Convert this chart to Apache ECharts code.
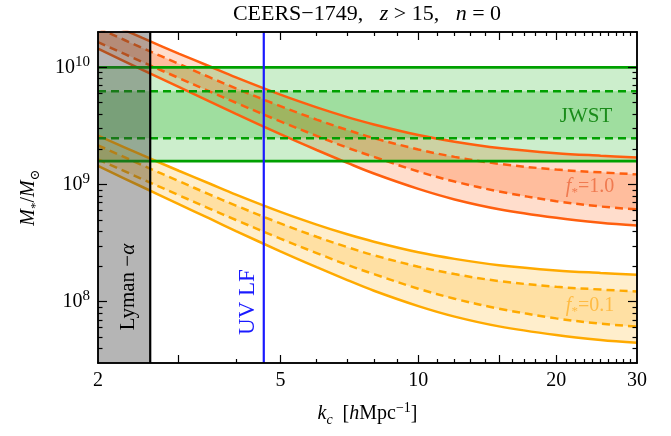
<!DOCTYPE html>
<html>
<head>
<meta charset="utf-8">
<title>CEERS-1749</title>
<script src="https://cdn.jsdelivr.net/npm/echarts@6/dist/echarts.min.js"></script>
<style>
  html, body { margin: 0; padding: 0; background: #fff; }
  #chart { width: 671px; height: 436px; }
</style>
</head>
<body>
<div id="chart"></div>
<script>
// axis ranges
const xRange = [2, 30];
const yRange = [3e7, 2e10];

// cut-off scale k_c [h/Mpc]
const kc = [2, 2.5, 3, 3.5, 4, 5, 6, 7, 8, 10, 12, 15, 20, 25, 30];

// f* = 1.0 band (solid = outer, dashed = inner)
const f1Upper = [2.61e10, 1.78e10, 1.31e10, 1.02e10, 8.20e9, 5.84e9, 4.55e9, 3.76e9, 3.25e9, 2.64e9, 2.32e9, 2.05e9, 1.85e9, 1.76e9, 1.70e9];
const f1UpperDash = [2.16e10, 1.46e10, 1.07e10, 8.23e9, 6.61e9, 4.66e9, 3.58e9, 2.92e9, 2.49e9, 1.99e9, 1.72e9, 1.50e9, 1.34e9, 1.27e9, 1.22e9];
const f1LowerDash = [1.64e10, 1.11e10, 8.11e9, 6.23e9, 4.98e9, 3.45e9, 2.60e9, 2.06e9, 1.72e9, 1.29e9, 1.06e9, 8.72e8, 7.21e8, 6.49e8, 6.13e8];
const f1Lower = [1.44e10, 9.52e9, 6.81e9, 5.13e9, 4.01e9, 2.69e9, 1.97e9, 1.53e9, 1.24e9, 9.17e8, 7.46e8, 6.16e8, 5.20e8, 4.72e8, 4.46e8];

// f* = 0.1 band
const f01Upper = [2.61e9, 1.78e9, 1.31e9, 1.02e9, 8.20e8, 5.84e8, 4.55e8, 3.76e8, 3.25e8, 2.64e8, 2.32e8, 2.05e8, 1.85e8, 1.76e8, 1.70e8];
const f01UpperDash = [2.16e9, 1.46e9, 1.07e9, 8.23e8, 6.61e8, 4.66e8, 3.58e8, 2.92e8, 2.49e8, 1.99e8, 1.72e8, 1.50e8, 1.34e8, 1.27e8, 1.22e8];
const f01LowerDash = [1.64e9, 1.11e9, 8.11e8, 6.23e8, 4.98e8, 3.45e8, 2.60e8, 2.06e8, 1.72e8, 1.29e8, 1.06e8, 8.72e7, 7.21e7, 6.49e7, 6.13e7];
const f01Lower = [1.44e9, 9.52e8, 6.81e8, 5.13e8, 4.01e8, 2.69e8, 1.97e8, 1.53e8, 1.24e8, 9.17e7, 7.46e7, 6.16e7, 5.20e7, 4.72e7, 4.46e7];

// JWST stellar mass: outer low, inner low, inner high, outer high
const jwst = [1.58e9, 2.48e9, 6.24e9, 1e10];

// vertical limits
const lymanK = 2.6;
const uvlfK = 4.6;

// ticks
const xTickLabels = [2, 5, 10, 20, 30];
const xMajorTicks = [3, 5, 10, 15, 20];
const xMinorTicks = [4, 6, 7, 8, 9, 11, 12, 13, 14, 16, 17, 18, 19, 21, 22, 23, 24, 25, 26, 27, 28, 29];
const yMajorTicks = [1e8, 1e9, 1e10];
const yMinorTicks = [4e7, 5e7, 6e7, 7e7, 8e7, 9e7, 2e8, 3e8, 4e8, 5e8, 6e8, 7e8, 8e8, 9e8, 2e9, 3e9, 4e9, 5e9, 6e9, 7e9, 8e9, 9e9];

const FONT = '"Liberation Serif", "DejaVu Serif", serif';
const ORANGE = '#ff5f0f';
const YELLOW = '#ffaa00';
const GREEN = '#00a000';

const chart = echarts.init(document.getElementById('chart'));

function pairs(arr) {
  return kc.map((k, i) => [k, arr[i]]);
}

// polygon between two curves
function band(upper, lower, fill) {
  return {
    type: 'custom', xAxisIndex: 0, yAxisIndex: 0, clip: true, silent: true, z: 2,
    data: [0],
    renderItem: function (params, api) {
      const top = kc.map((k, i) => api.coord([k, upper[i]]));
      const bot = kc.map((k, i) => api.coord([k, lower[i]])).reverse();
      const pts = [top[0]].concat(top, [top[top.length - 1], bot[0]], bot, [bot[bot.length - 1]]);
      return { type: 'polygon', shape: { points: pts, smooth: 0.35 }, style: { fill: fill } };
    }
  };
}

// horizontal strip (full x range)
function strip(lo, hi, fill) {
  return {
    type: 'custom', xAxisIndex: 0, yAxisIndex: 0, clip: true, silent: true, z: 2,
    data: [0],
    renderItem: function (params, api) {
      const a = api.coord([xRange[0], hi]);
      const b = api.coord([xRange[1], lo]);
      return { type: 'rect', shape: { x: a[0], y: a[1], width: b[0] - a[0], height: b[1] - a[1] }, style: { fill: fill } };
    }
  };
}

function curve(arr, color, dashed) {
  return {
    type: 'line', data: pairs(arr), smooth: 0.35, symbol: 'none', silent: true, z: 3,
    lineStyle: { color: color, width: 2.5, type: dashed ? [8, 5] : 'solid' }
  };
}

function hline(v, color, dashed) {
  return {
    type: 'line', data: [[xRange[0], v], [xRange[1], v]], symbol: 'none', silent: true, z: 3,
    lineStyle: { color: color, width: dashed ? 2.4 : 2.8, type: dashed ? [8, 5] : 'solid' }
  };
}

function vline(k, color) {
  return {
    type: 'line', data: [[k, yRange[0]], [k, yRange[1]]], symbol: 'none', silent: true, z: 5,
    lineStyle: { color: color, width: 2.2 }
  };
}

function xAxisDef(pos, ticks, len, labels) {
  return {
    type: 'log', logBase: 10, min: xRange[0], max: xRange[1], position: pos, z: 10,
    axisLine: { show: true, onZero: false, lineStyle: { color: '#000', width: 1.5 } },
    axisTick: { show: true, inside: true, length: len, customValues: ticks, lineStyle: { color: '#000', width: 1.2 } },
    axisLabel: { show: labels, customValues: xTickLabels, margin: 8, color: '#000', fontFamily: FONT, fontSize: 20 },
    splitLine: { show: false },
    name: labels ? '{i|k}{s|c}  [{i|h}Mpc{p|−1}]' : '',
    nameLocation: 'middle', nameGap: 38,
    nameTextStyle: {
      color: '#000', fontFamily: FONT, fontSize: 20,
      rich: {
        i: { fontFamily: FONT, fontSize: 20, fontStyle: 'italic', lineHeight: 26 },
        s: { fontFamily: FONT, fontSize: 14, fontStyle: 'italic', verticalAlign: 'bottom', lineHeight: 18 },
        p: { fontFamily: FONT, fontSize: 14, verticalAlign: 'top', lineHeight: 16 }
      }
    }
  };
}

function yAxisDef(pos, ticks, len, labels) {
  return {
    type: 'log', logBase: 10, min: yRange[0], max: yRange[1], position: pos, z: 10,
    axisLine: { show: true, onZero: false, lineStyle: { color: '#000', width: 1.5 } },
    axisTick: { show: true, inside: true, length: len, customValues: ticks, lineStyle: { color: '#000', width: 1.2 } },
    axisLabel: {
      show: labels, customValues: yMajorTicks, margin: 8, color: '#000',
      formatter: function (v) { return '{b|10}{s|' + Math.round(Math.log10(v)) + '}'; },
      rich: {
        b: { fontFamily: FONT, fontSize: 20, color: '#000', lineHeight: 26 },
        s: { fontFamily: FONT, fontSize: 15, color: '#000', lineHeight: 15, verticalAlign: 'top' }
      }
    },
    splitLine: { show: false },
    name: labels ? '{i|M}{s|*}/{i|M}{s|⊙}' : '',
    nameLocation: 'middle', nameGap: 56, nameRotate: 90,
    nameTextStyle: {
      color: '#000', fontFamily: FONT, fontSize: 20,
      rich: {
        i: { fontFamily: FONT, fontSize: 20, fontStyle: 'italic', lineHeight: 26 },
        s: { fontFamily: FONT, fontSize: 13, verticalAlign: 'bottom', lineHeight: 18 }
      }
    }
  };
}

const option = {
  animation: false,
  backgroundColor: '#fff',
  grid: { left: 98, right: 34, top: 32, bottom: 73 },
  xAxis: [
    xAxisDef('bottom', xMajorTicks, 8, true),
    xAxisDef('bottom', xMinorTicks, 4, false),
    xAxisDef('top', xMajorTicks, 8, false),
    xAxisDef('top', xMinorTicks, 4, false)
  ],
  yAxis: [
    yAxisDef('left', yMajorTicks, 9, true),
    yAxisDef('left', yMinorTicks, 4.5, false),
    yAxisDef('right', yMajorTicks, 9, false),
    yAxisDef('right', yMinorTicks, 4.5, false)
  ],
  series: [
    band(f01Upper, f01Lower, 'rgba(255,170,0,0.2)'),
    band(f01UpperDash, f01LowerDash, 'rgba(255,170,0,0.2)'),
    band(f1Upper, f1Lower, 'rgba(255,95,15,0.21)'),
    band(f1UpperDash, f1LowerDash, 'rgba(255,95,15,0.25)'),
    strip(jwst[0], jwst[3], 'rgba(0,170,0,0.2)'),
    strip(jwst[1], jwst[2], 'rgba(0,170,0,0.22)'),

    curve(f01Upper, YELLOW, false),
    curve(f01UpperDash, YELLOW, true),
    curve(f01LowerDash, YELLOW, true),
    curve(f01Lower, YELLOW, false),
    curve(f1Upper, ORANGE, false),
    curve(f1UpperDash, ORANGE, true),
    curve(f1LowerDash, ORANGE, true),
    curve(f1Lower, ORANGE, false),
    hline(jwst[0], GREEN, false),
    hline(jwst[1], GREEN, true),
    hline(jwst[2], GREEN, true),
    hline(jwst[3], GREEN, false),

    // Lyman-alpha excluded region (grey overlay)
    {
      type: 'custom', xAxisIndex: 0, yAxisIndex: 0, clip: true, silent: true, z: 4,
      data: [0],
      renderItem: function (params, api) {
        const a = api.coord([xRange[0], yRange[1]]);
        const b = api.coord([lymanK, yRange[0]]);
        return { type: 'rect', shape: { x: a[0], y: a[1], width: b[0] - a[0], height: b[1] - a[1] }, style: { fill: 'rgba(60,60,60,0.38)' } };
      }
    },
    vline(lymanK, '#000'),
    vline(uvlfK, '#1a1aff')
  ],
  graphic: [
    {
      type: 'text', x: 367, y: 14, z: 20,
      style: {
        text: 'CEERS−1749,   {i|z} > 15,   {i|n} = 0',
        align: 'center', verticalAlign: 'middle',
        font: '22px ' + FONT, fill: '#000',
        rich: { i: { fontFamily: FONT, fontSize: 22, fontStyle: 'italic' } }
      }
    },
    {
      type: 'text', x: 586, y: 116, z: 20,
      style: { text: 'JWST', align: 'center', verticalAlign: 'middle', font: '21px ' + FONT, fill: '#1a8c1a' }
    },
    {
      type: 'text', x: 590, y: 187, z: 20,
      style: {
        text: '{i|f}{s|*}=1.0', align: 'center', verticalAlign: 'middle', font: '20px ' + FONT, fill: '#f07a50',
        rich: {
          i: { fontFamily: FONT, fontSize: 20, fontStyle: 'italic', fill: '#f07a50', lineHeight: 24 },
          s: { fontFamily: FONT, fontSize: 13, fill: '#f07a50', verticalAlign: 'bottom', lineHeight: 18 }
        }
      }
    },
    {
      type: 'text', x: 590, y: 306, z: 20,
      style: {
        text: '{i|f}{s|*}=0.1', align: 'center', verticalAlign: 'middle', font: '20px ' + FONT, fill: '#ffbb44',
        rich: {
          i: { fontFamily: FONT, fontSize: 20, fontStyle: 'italic', fill: '#ffbb44', lineHeight: 24 },
          s: { fontFamily: FONT, fontSize: 13, fill: '#ffbb44', verticalAlign: 'bottom', lineHeight: 18 }
        }
      }
    },
    {
      type: 'text', x: 128, y: 287, z: 20, rotation: Math.PI / 2,
      style: {
        text: 'Lyman −{i|α}', align: 'center', verticalAlign: 'middle', font: '21px ' + FONT, fill: '#000',
        rich: { i: { fontFamily: FONT, fontSize: 21, fontStyle: 'italic' } }
      }
    },
    {
      type: 'text', x: 248, y: 302, z: 20, rotation: Math.PI / 2,
      style: { text: 'UV LF', align: 'center', verticalAlign: 'middle', font: '23px ' + FONT, fill: '#1a1aff' }
    }
  ]
};

chart.setOption(option);
</script>
</body>
</html>
